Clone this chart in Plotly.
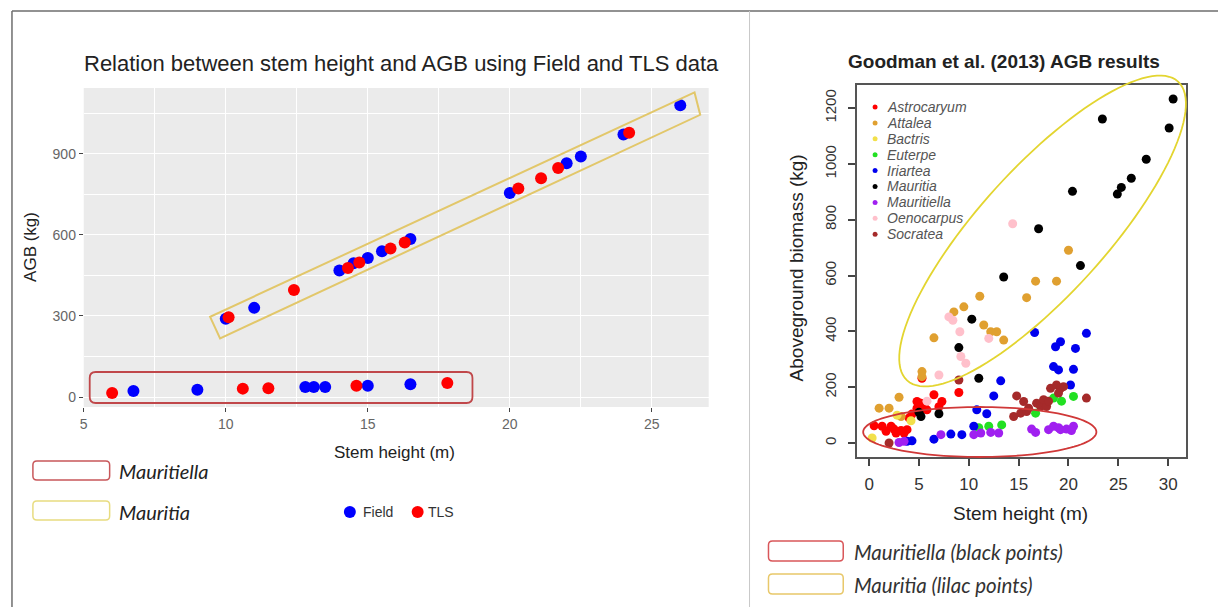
import math
import plotly.graph_objects as go

W, H = 1218, 607

# ---------------- Left panel data (Field vs TLS) ----------------
field_height = [6.75, 9.0, 12.8, 13.1, 13.5, 15.0, 16.5,
                10.0, 11.0, 14.0, 14.5, 15.0, 15.5, 16.5, 20.0, 22.0, 22.5, 24.0, 26.0]
field_agb = [22, 27, 37, 37, 37, 42, 47,
             290, 330, 468, 495, 515, 540, 585, 755, 865, 890, 972, 1080]
tls_height = [6.0, 10.6, 11.5, 14.6, 17.8,
              10.1, 12.4, 14.3, 14.7, 15.8, 16.3, 20.3, 21.1, 21.7, 24.2]
tls_agb = [15, 31, 32, 42, 52,
           295, 396, 478, 498, 550, 572, 772, 810, 848, 978]

left_xticks = [5, 10, 15, 20, 25]
left_yticks = [0, 300, 600, 900]

# ---------------- Right panel data (Goodman et al. 2013) ----------------
genera = ["Astrocaryum", "Attalea", "Bactris", "Euterpe", "Iriartea",
          "Mauritia", "Mauritiella", "Oenocarpus", "Socratea"]
genus_colors = ["#FF0000", "#E0A030", "#F2E04A", "#22E022", "#0000EE",
                "#000000", "#A020F0", "#FFC0CB", "#A52A2A"]

astrocaryum_h = [0.5, 1.3, 1.7, 2.2, 2.7, 3.2, 3.5, 3.8, 4.3, 4.8, 4.8, 5.1, 5.2, 5.5, 5.8, 6.5, 7.3, 7.0, 9.0, 5.3, 2.5, 4.0]
astrocaryum_b = [62, 60, 42, 60, 36, 45, 36, 48, 104, 149, 125, 113, 143, 131, 119, 173, 149, 130, 181, 232, 50, 90]
attalea_h = [20.0, 16.7, 18.8, 11.1, 15.8, 9.5, 6.5, 11.5, 12.2, 12.8, 13.5, 5.3, 5.3, 3.0, 1.0, 2.0, 3.2, 8.5]
attalea_b = [691, 580, 580, 526, 521, 488, 377, 423, 399, 399, 369, 256, 238, 164, 125, 125, 95, 470]
bactris_h = [0.3, 2.8, 4.2]
bactris_b = [18, 100, 80]
euterpe_h = [20.5, 18.5, 19.3, 16.7, 13.3, 12.0, 11.0]
euterpe_b = [167, 161, 150, 107, 65, 60, 55]
iriartea_h = [16.6, 18.7, 19.2, 20.7, 21.8, 18.5, 19.0, 20.5, 20.2, 13.2, 12.5, 11.8, 10.8, 10.5, 9.3, 8.2, 6.5, 4.3, 3.8]
iriartea_b = [396, 345, 363, 339, 393, 274, 262, 264, 208, 223, 169, 105, 119, 60, 30, 32, 14, 8, 6]
mauritia_h = [30.5, 30.1, 23.4, 27.8, 26.3, 25.3, 24.9, 20.4, 17.0, 21.2, 13.5, 10.3, 9.0, 11.0, 7.0, 5.2, 5.0]
mauritia_b = [1233, 1129, 1161, 1017, 949, 916, 892, 902, 768, 636, 595, 444, 342, 232, 105, 95, 110]
mauritiella_h = [16.3, 16.7, 18.0, 18.5, 19.2, 19.8, 20.5, 20.3, 13.0, 12.2, 11.2, 10.5, 7.2, 3.5, 3.0, 19.0]
mauritiella_b = [50, 38, 48, 60, 48, 50, 60, 45, 36, 38, 36, 30, 30, 6, 2, 55]
oenocarpus_h = [14.4, 8.0, 8.4, 9.1, 9.2, 9.7, 7.0, 12.0, 5.8]
oenocarpus_b = [786, 452, 440, 399, 310, 286, 244, 375, 150]
socratea_h = [14.8, 15.5, 15.2, 14.5, 15.8, 16.8, 17.2, 17.5, 17.8, 18.2, 18.8, 19.2, 19.5, 19.0, 21.8, 9.0, 2.0, 16.0, 18.0]
socratea_b = [169, 149, 107, 95, 113, 143, 131, 155, 131, 196, 208, 196, 202, 179, 161, 226, 0, 125, 150]

right_xticks = [0, 5, 10, 15, 20, 25, 30]
right_yticks = [0, 200, 400, 600, 800, 1000, 1200]

genus_h = [astrocaryum_h, attalea_h, bactris_h, euterpe_h, iriartea_h,
           mauritia_h, mauritiella_h, oenocarpus_h, socratea_h]
genus_b = [astrocaryum_b, attalea_b, bactris_b, euterpe_b, iriartea_b,
           mauritia_b, mauritiella_b, oenocarpus_b, socratea_b]

# ---------------- helpers (pixel -> paper) ----------------
def PX(p):
    return p / W


def PY(p):
    return 1 - p / H


def rrect_path(x0, y0, x1, y1, r):
    pts = []
    pts.append(f"M {PX(x0 + r)} {PY(y0)}")
    pts.append(f"L {PX(x1 - r)} {PY(y0)}")
    pts.append(f"Q {PX(x1)} {PY(y0)} {PX(x1)} {PY(y0 + r)}")
    pts.append(f"L {PX(x1)} {PY(y1 - r)}")
    pts.append(f"Q {PX(x1)} {PY(y1)} {PX(x1 - r)} {PY(y1)}")
    pts.append(f"L {PX(x0 + r)} {PY(y1)}")
    pts.append(f"Q {PX(x0)} {PY(y1)} {PX(x0)} {PY(y1 - r)}")
    pts.append(f"L {PX(x0)} {PY(y0 + r)}")
    pts.append(f"Q {PX(x0)} {PY(y0)} {PX(x0 + r)} {PY(y0)}")
    pts.append("Z")
    return " ".join(pts)


def ellipse_path(cx, cy, a, b, theta_deg, n=120):
    t = math.radians(theta_deg)
    segs = []
    for i in range(n + 1):
        u = 2 * math.pi * i / n
        ex, ey = a * math.cos(u), b * math.sin(u)
        px = cx + ex * math.cos(t) - ey * math.sin(t)
        py = cy - (ex * math.sin(t) + ey * math.cos(t))
        segs.append(("M" if i == 0 else "L") + f" {PX(px)} {PY(py)}")
    return " ".join(segs) + " Z"


def poly_path(pts):
    return " ".join(("M" if i == 0 else "L") + f" {PX(x)} {PY(y)}" for i, (x, y) in enumerate(pts)) + " Z"


FONT = "Liberation Sans, Arial, sans-serif"
ITAL = "Lato, Liberation Sans, sans-serif"

fig = go.Figure()

# ---------------- traces ----------------
fig.add_trace(go.Scatter(x=field_height, y=field_agb, mode="markers", name="Field",
                         marker=dict(color="#0000FF", size=12), xaxis="x", yaxis="y",
                         showlegend=False))
fig.add_trace(go.Scatter(x=tls_height, y=tls_agb, mode="markers", name="TLS",
                         marker=dict(color="#FF0000", size=12), xaxis="x", yaxis="y",
                         showlegend=False))
for g, c, hx, by in zip(genera, genus_colors, genus_h, genus_b):
    fig.add_trace(go.Scatter(x=hx, y=by, mode="markers", name=g,
                             marker=dict(color=c, size=9), xaxis="x2", yaxis="y2",
                             showlegend=False))

shapes = []
# left grey panel background
shapes.append(dict(type="rect", xref="x domain", yref="y domain", x0=0, x1=1, y0=0, y1=1,
                   fillcolor="#EBEBEB", line=dict(width=0), layer="below"))
# outer frame
shapes.append(dict(type="line", xref="paper", yref="paper", x0=PX(8), x1=1, y0=PY(11), y1=PY(11),
                   line=dict(color="#6E6E6E", width=1.5)))
shapes.append(dict(type="line", xref="paper", yref="paper", x0=PX(8), x1=PX(8), y0=PY(11), y1=0,
                   line=dict(color="#6E6E6E", width=1.5)))
shapes.append(dict(type="line", xref="paper", yref="paper", x0=PX(748), x1=PX(748), y0=PY(11), y1=0,
                   line=dict(color="#C8C8C8", width=1)))
# left annotations
shapes.append(dict(type="path", xref="paper", yref="paper",
                   path=poly_path([(206.8, 316.8), (216.8, 338.4), (698.5, 114.8), (692.8, 92.4)]),
                   line=dict(color="#E2C76A", width=2)))
shapes.append(dict(type="path", xref="paper", yref="paper",
                   path=rrect_path(86, 372, 470, 403, 6), line=dict(color="#C0474A", width=1.8)))
# left legend keys
shapes.append(dict(type="path", xref="paper", yref="paper",
                   path=rrect_path(29, 461, 106, 480, 4), line=dict(color="#C8575A", width=1.5)))
shapes.append(dict(type="path", xref="paper", yref="paper",
                   path=rrect_path(29, 501, 106, 520, 4), line=dict(color="#E8DC80", width=1.5)))
for cx, col in [(347, "#0000FF"), (415, "#FF0000")]:
    shapes.append(dict(type="circle", xref="paper", yref="paper",
                       x0=PX(cx - 6), x1=PX(cx + 6), y0=PY(512 + 6), y1=PY(512 - 6),
                       fillcolor=col, line=dict(width=0)))
# right ellipses
shapes.append(dict(type="path", xref="paper", yref="paper",
                   path=ellipse_path(1042, 231, 202, 63.5, 47.7),
                   line=dict(color="#E3D530", width=1.8)))
shapes.append(dict(type="path", xref="paper", yref="paper",
                   path=ellipse_path(979, 432, 117, 25, 0),
                   line=dict(color="#D03838", width=1.8)))
# right legend keys
shapes.append(dict(type="path", xref="paper", yref="paper",
                   path=rrect_path(767, 541, 842, 561, 4), line=dict(color="#D9575A", width=1.5)))
shapes.append(dict(type="path", xref="paper", yref="paper",
                   path=rrect_path(767, 574, 842, 594, 4), line=dict(color="#E8C86A", width=1.5)))
# inner genus legend dots
for i, c in enumerate(genus_colors):
    cy = 107 + 15.9 * i
    shapes.append(dict(type="circle", xref="paper", yref="paper",
                       x0=PX(874 - 2.5), x1=PX(874 + 2.5), y0=PY(cy + 2.5), y1=PY(cy - 2.5),
                       fillcolor=c, line=dict(width=0)))

ann = []


def text(x, y, s, size, color="#222", font=FONT, xanchor="center", angle=0):
    ann.append(dict(xref="paper", yref="paper", x=PX(x), y=PY(y), text=s, showarrow=False,
                    xanchor=xanchor, yanchor="middle", textangle=angle, borderpad=0,
                    font=dict(family=font, size=size, color=color)))


text(399, 63, "Relation between stem height and AGB using Field and TLS data", 22, "#222")
text(27, 247, "AGB (kg)", 17, "#222", angle=-90)
text(392, 452, "Stem height (m)", 17, "#222")
text(114, 471, "<i>Mauritiella</i>", 20, "#222", ITAL, "left")
text(114, 512, "<i>Mauritia</i>", 20, "#222", ITAL, "left")
text(359, 512, "Field", 14, "#333", FONT, "left")
text(424, 512, "TLS", 14, "#333", FONT, "left")

text(1003, 61, "<b>Goodman et al. (2013) AGB results</b>", 19, "#222")
text(795, 268, "Aboveground biomass (kg)", 19, "#222", angle=-90)
text(1020, 513, "Stem height (m)", 19, "#222")
text(852, 552, "<i>Mauritiella (black points)</i>", 20.5, "#333", ITAL, "left")
text(852, 585, "<i>Mauritia (lilac points)</i>", 20.5, "#333", ITAL, "left")
for i, g in enumerate(genera):
    text(885, 107 + 15.9 * i, f"<i>{g}</i>", 14, "#555", FONT, "left")

fig.update_layout(
    width=W, height=H,
    margin=dict(l=0, r=0, t=0, b=0),
    paper_bgcolor="white", plot_bgcolor="rgba(0,0,0,0)",
    showlegend=False,
    shapes=shapes, annotations=ann,
    xaxis=dict(domain=[PX(80), PX(707)], range=[5, 27], tickvals=left_xticks,
               showgrid=True, gridcolor="white", gridwidth=1.3,
               minor=dict(dtick=2.5, tick0=0, showgrid=True, gridcolor="white", gridwidth=0.6),
               zeroline=False, showline=False, ticks="outside", ticklen=4, tickcolor="#444",
               tickfont=dict(family=FONT, size=14, color="#666"), anchor="y"),
    yaxis=dict(domain=[PY(407), PY(88)], range=[-37, 1144], tickvals=left_yticks,
               showgrid=True, gridcolor="white", gridwidth=1.3,
               minor=dict(dtick=150, tick0=0, showgrid=True, gridcolor="white", gridwidth=0.6),
               zeroline=False, showline=False, ticks="outside", ticklen=4, tickcolor="#444",
               tickfont=dict(family=FONT, size=14, color="#666"), anchor="x"),
    xaxis2=dict(domain=[PX(856), PX(1186)], range=[-1.2, 31.8], tickvals=right_xticks,
                showgrid=False, zeroline=False, showline=True, mirror=True,
                linecolor="#555", linewidth=2, ticks="outside", ticklen=7, tickwidth=1.5,
                tickcolor="#444", tickfont=dict(family=FONT, size=17, color="#333"),
                ticklabelstandoff=4, anchor="y2"),
    yaxis2=dict(domain=[PY(457), PY(85)], range=[-50, 1283], tickvals=right_yticks,
                showgrid=False, zeroline=False, showline=True, mirror=True,
                linecolor="#555", linewidth=2, ticks="outside", ticklen=7, tickwidth=1.5,
                tickcolor="#444", tickangle=-90, tickfont=dict(family=FONT, size=15, color="#333"),
                ticklabelstandoff=6, anchor="x2"),
)

fig.write_html("out.html")
